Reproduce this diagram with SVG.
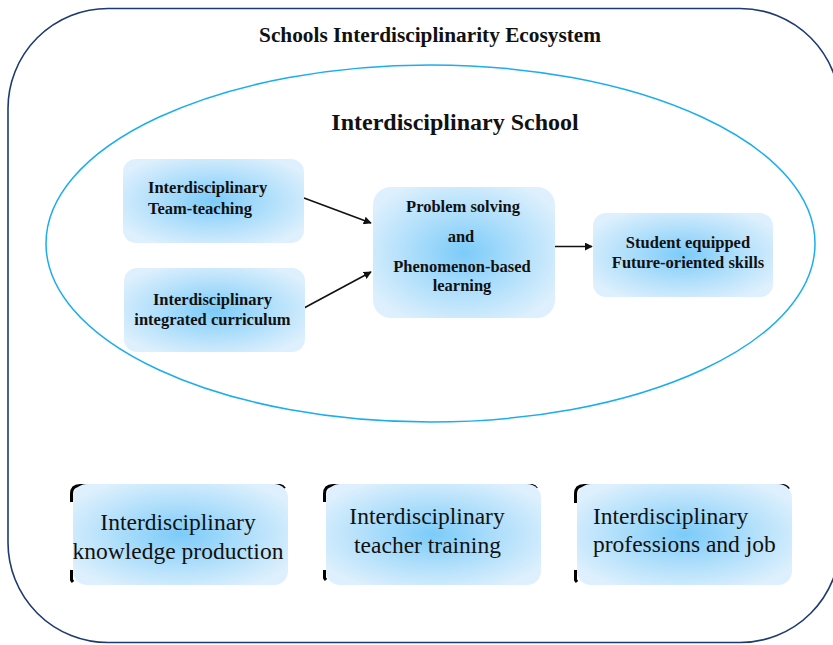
<svg xmlns="http://www.w3.org/2000/svg" width="833" height="645" viewBox="0 0 833 645">
<style>
.frame{fill:none;stroke:#1e3a72;stroke-width:1.6}
.oval{fill:none;stroke:#1aaeef;stroke-width:1.5}
.box{fill:url(#g)}
.t{font-family:"Liberation Serif","Times New Roman",serif;fill:#111}
.b{font-weight:bold;font-size:16.5px}
.r{font-size:23.5px}
.mid{text-anchor:middle}
.conn{stroke:#111;stroke-width:1.6;fill:none}
.corner{fill:none;stroke:#000;stroke-width:3;stroke-linecap:butt}
</style>
<defs>
<radialGradient id="g" cx="50%" cy="50%" r="60%">
<stop offset="0" stop-color="#7ccbf9"/>
<stop offset="0.55" stop-color="#b3e0fb"/>
<stop offset="1" stop-color="#def0fd"/>
</radialGradient>
<marker id="ah" viewBox="0 0 10 10" refX="9" refY="5" markerWidth="8" markerHeight="8" markerUnits="userSpaceOnUse" orient="auto">
<path d="M0,0 L10,5 L0,10 z" fill="#111"/>
</marker>
</defs>
<rect class="frame" x="8" y="8.5" width="832" height="634" rx="100" ry="100"/>
<text class="t mid" x="430" y="42" font-size="21.3" font-weight="bold">Schools Interdisciplinarity Ecosystem</text>
<ellipse class="oval" cx="430.5" cy="243.5" rx="384.5" ry="178.5"/>
<text class="t mid" x="455" y="130" font-size="24" font-weight="bold">Interdisciplinary School</text>
<g id="conns">
<line class="conn" x1="304" y1="198" x2="371" y2="223" marker-end="url(#ah)"/>
<line class="conn" x1="304" y1="308" x2="371" y2="272" marker-end="url(#ah)"/>
<line class="conn" x1="555" y1="246.5" x2="592" y2="246.5" marker-end="url(#ah)"/>
</g>
<g id="n_team">
<rect class="box" x="123" y="159" width="181" height="84" rx="13"/>
<text class="t b" x="148" y="193">Interdisciplinary</text>
<text class="t b" x="148" y="214">Team-teaching</text>
</g>
<g id="n_curr">
<rect class="box" x="124" y="268" width="181" height="84" rx="13"/>
<text class="t b mid" x="212.5" y="305">Interdisciplinary</text>
<text class="t b mid" x="212.5" y="325">integrated curriculum</text>
</g>
<g id="n_prob">
<rect class="box" x="373" y="187" width="182" height="131" rx="18"/>
<text class="t b mid" x="463" y="212">Problem solving</text>
<text class="t b mid" x="461" y="242">and</text>
<text class="t b mid" x="462" y="272">Phenomenon-based</text>
<text class="t b mid" x="462" y="291">learning</text>
</g>
<g id="n_student">
<rect class="box" x="593" y="213" width="180" height="84" rx="13"/>
<text class="t b mid" x="688" y="248">Student equipped</text>
<text class="t b mid" x="688" y="268">Future-oriented skills</text>
</g>
<g id="n_knowledge">
<path class="corner" d="M71.5,502 L71.5,494 Q71.5,485.5 80,485.5 L88,485.5 M275,485.5 L280,485.5 Q283,486 284.5,488.5 M71.5,570 L71.5,580 L73,582"/>
<rect class="box" x="73" y="484" width="215" height="101" rx="14"/>
<text class="t r mid" x="178" y="530">Interdisciplinary</text>
<text class="t r mid" x="178" y="559">knowledge production</text>
</g>
<g id="n_teacher">
<path class="corner" d="M324.5,502 L324.5,494 Q324.5,485.5 333,485.5 L340,485.5 M527,485.5 L532,485.5 Q535,486 536.5,488.5 M324.5,570 L324.5,578 L326,580"/>
<rect class="box" x="326" y="484" width="215" height="101" rx="14"/>
<text class="t r mid" x="427" y="524">Interdisciplinary</text>
<text class="t r mid" x="427.5" y="553">teacher training</text>
</g>
<g id="n_prof">
<path class="corner" d="M575.5,503 L575.5,494 Q575.5,485.5 584,485.5 L592,485.5 M778,485.5 L783,485.5 Q787,486 788.5,489 M575.5,570 L575.5,580 L577,582"/>
<rect class="box" x="577" y="484" width="215" height="101" rx="14"/>
<text class="t r" x="593" y="524">Interdisciplinary</text>
<text class="t r" x="593" y="552">professions and job</text>
</g>
</svg>
